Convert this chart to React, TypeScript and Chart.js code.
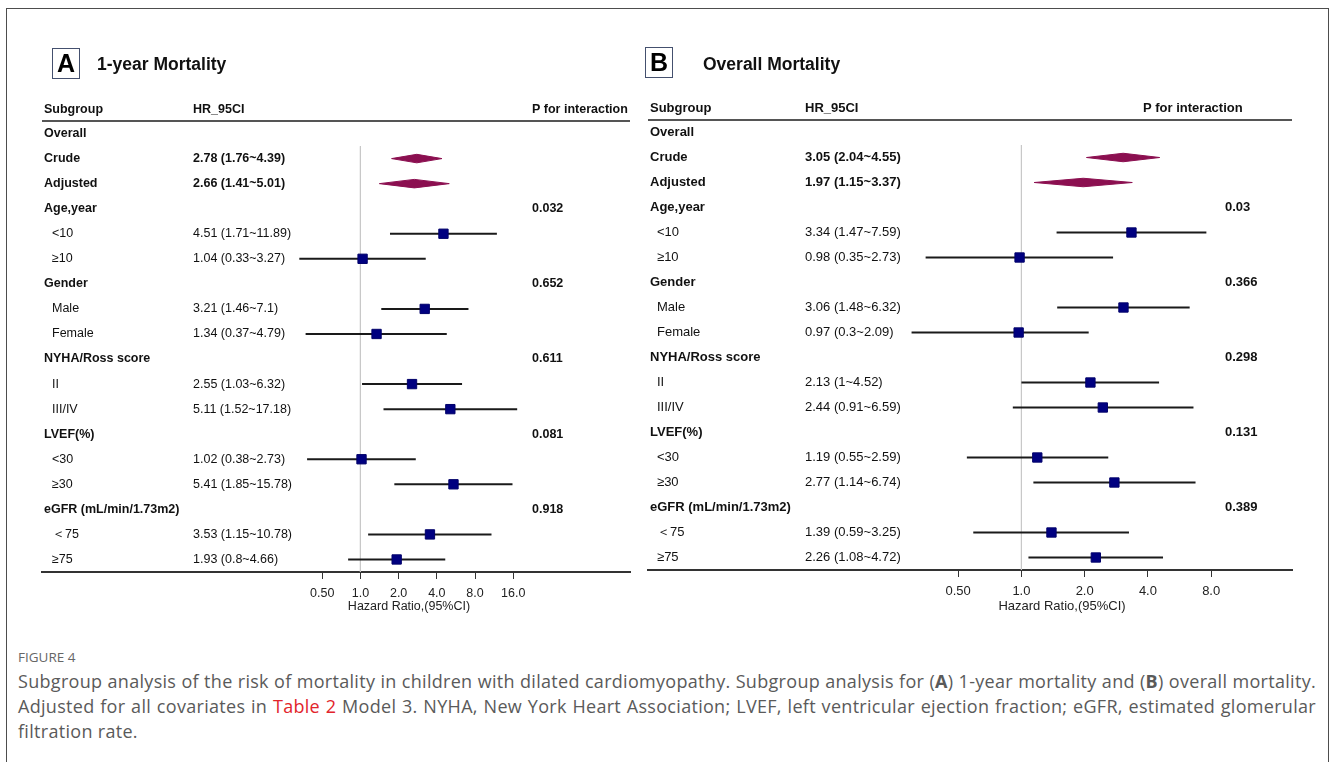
import React, { useEffect, useRef } from 'react';
import { Chart, registerables } from 'chart.js';
Chart.register(...registerables);

// ---------- data ----------
const subgroups = ['Overall', 'Crude', 'Adjusted', 'Age,year', '<10', '≥10', 'Gender', 'Male', 'Female', 'NYHA/Ross score', 'II', 'III/IV', 'LVEF(%)', '<30', '≥30', 'eGFR (mL/min/1.73m2)', '＜75', '≥75'];
const summaryRows = ['Crude', 'Adjusted'];

const hrTextA = ['', '2.78 (1.76~4.39)', '2.66 (1.41~5.01)', '', '4.51 (1.71~11.89)', '1.04 (0.33~3.27)', '', '3.21 (1.46~7.1)', '1.34 (0.37~4.79)', '', '2.55 (1.03~6.32)', '5.11 (1.52~17.18)', '', '1.02 (0.38~2.73)', '5.41 (1.85~15.78)', '', '3.53 (1.15~10.78)', '1.93 (0.8~4.66)'];
const hrA = [null, 2.78, 2.66, null, 4.51, 1.04, null, 3.21, 1.34, null, 2.55, 5.11, null, 1.02, 5.41, null, 3.53, 1.93];
const loA = [null, 1.76, 1.41, null, 1.71, 0.33, null, 1.46, 0.37, null, 1.03, 1.52, null, 0.38, 1.85, null, 1.15, 0.8];
const hiA = [null, 4.39, 5.01, null, 11.89, 3.27, null, 7.1, 4.79, null, 6.32, 17.18, null, 2.73, 15.78, null, 10.78, 4.66];
const pA = ['', '', '', '0.032', '', '', '0.652', '', '', '0.611', '', '', '0.081', '', '', '0.918', '', ''];

const hrTextB = ['', '3.05 (2.04~4.55)', '1.97 (1.15~3.37)', '', '3.34 (1.47~7.59)', '0.98 (0.35~2.73)', '', '3.06 (1.48~6.32)', '0.97 (0.3~2.09)', '', '2.13 (1~4.52)', '2.44 (0.91~6.59)', '', '1.19 (0.55~2.59)', '2.77 (1.14~6.74)', '', '1.39 (0.59~3.25)', '2.26 (1.08~4.72)'];
const hrB = [null, 3.05, 1.97, null, 3.34, 0.98, null, 3.06, 0.97, null, 2.13, 2.44, null, 1.19, 2.77, null, 1.39, 2.26];
const loB = [null, 2.04, 1.15, null, 1.47, 0.35, null, 1.48, 0.3, null, 1, 0.91, null, 0.55, 1.14, null, 0.59, 1.08];
const hiB = [null, 4.55, 3.37, null, 7.59, 2.73, null, 6.32, 2.09, null, 4.52, 6.59, null, 2.59, 6.74, null, 3.25, 4.72];
const pB = ['', '', '', '0.03', '', '', '0.366', '', '', '0.298', '', '', '0.131', '', '', '0.389', '', ''];

const tickValuesA = [0.5, 1, 2, 4, 8, 16];
const tickLabelsA = ['0.50', '1.0', '2.0', '4.0', '8.0', '16.0'];
const tickValuesB = [0.5, 1, 2, 4, 8];
const tickLabelsB = ['0.50', '1.0', '2.0', '4.0', '8.0'];

const headers = ['Subgroup', 'HR_95CI', 'P for interaction'];
const axisTitle = 'Hazard Ratio,(95%CI)';

// ---------- styling ----------
const FONT = '"Liberation Sans", Arial, Helvetica, sans-serif';
const SQUARE = '#000080';
const DIAMOND = '#8b0f50';
const CI = '#1a1a1a';

type Panel = {
  hr: (number | null)[]; lo: (number | null)[]; hi: (number | null)[];
  hrText: string[]; p: string[]; ticks: number[]; tickLabels: string[];
  xMin: number; xMax: number;
  left: number; top: number; w: number; h: number;
  pad: { left: number; right: number; top: number; bottom: number };
  fontSize: number; colLabel: number; colIndent: number; colHr: number; colP: number; colPHead: number;
  titleX: number; titleY: number; headGap: number;
};

const panelA: Panel = {
  hr: hrA, lo: loA, hi: hiA, hrText: hrTextA, p: pA, ticks: tickValuesA, tickLabels: tickLabelsA,
  xMin: 0.0031, xMax: 133,
  left: 0, top: 0, w: 640, h: 640,
  pad: { left: 42, right: 10, top: 121, bottom: 23 },
  fontSize: 12.5, colLabel: 44, colIndent: 52, colHr: 193, colP: 532, colPHead: 532,
  titleX: 409, titleY: 607, headGap: 11,
};

const panelB: Panel = {
  hr: hrB, lo: loB, hi: hiB, hrText: hrTextB, p: pB, ticks: tickValuesB, tickLabels: tickLabelsB,
  xMin: 0.0167, xMax: 19.4,
  left: 640, top: 0, w: 690, h: 640,
  pad: { left: 8, right: 38, top: 120, bottom: 25 },
  fontSize: 13, colLabel: 10, colIndent: 17, colHr: 165, colP: 585, colPHead: 503,
  titleX: 422, titleY: 606, headGap: 12,
};

function makeTablePlugin(cfg: Panel) {
  return {
    id: 'forestTable',
    afterDraw(chart: any) {
      const { ctx, chartArea, scales } = chart;
      const ys = scales.y;
      ctx.save();
      ctx.strokeStyle = '#555';
      ctx.lineWidth = 2;
      ctx.beginPath();
      ctx.moveTo(chartArea.left, chartArea.top);
      ctx.lineTo(chartArea.right, chartArea.top);
      ctx.stroke();

      ctx.fillStyle = '#111';
      ctx.textBaseline = 'middle';
      ctx.textAlign = 'left';
      const bold = `bold ${cfg.fontSize}px ${FONT}`;
      const norm = `${cfg.fontSize}px ${FONT}`;
      const hy = chartArea.top - cfg.headGap;
      ctx.font = bold;
      ctx.fillText(headers[0], cfg.colLabel, hy);
      ctx.fillText(headers[1], cfg.colHr, hy);
      ctx.fillText(headers[2], cfg.colPHead, hy);

      subgroups.forEach((lab, i) => {
        const y = ys.getPixelForValue(i);
        const isSummary = summaryRows.includes(lab);
        const isHeader = cfg.hr[i] === null;
        ctx.font = isHeader || isSummary ? bold : norm;
        ctx.fillText(lab, isHeader || isSummary ? cfg.colLabel : cfg.colIndent, y);
        if (cfg.hrText[i]) {
          ctx.font = isSummary ? bold : norm;
          ctx.fillText(cfg.hrText[i], cfg.colHr, y);
        }
        if (cfg.p[i]) {
          ctx.font = bold;
          ctx.fillText(cfg.p[i], cfg.colP, y);
        }
      });

      ctx.font = norm;
      ctx.fillStyle = '#222';
      ctx.textAlign = 'center';
      ctx.fillText(axisTitle, cfg.titleX, cfg.titleY);
      ctx.restore();
    },
  };
}

function ForestPanel({ cfg }: { cfg: Panel }) {
  const ref = useRef<HTMLCanvasElement | null>(null);
  useEffect(() => {
    if (!ref.current) return;
    const n = subgroups.length;
    const datasets: any[] = [];
    // reference line at HR = 1
    datasets.push({
      data: [{ x: 1, y: 0.5 }, { x: 1, y: n - 0.5 }],
      showLine: true, borderColor: '#c8c8c8', borderWidth: 1, pointRadius: 0, order: 5,
    });
    const squares: any[] = [];
    subgroups.forEach((lab, i) => {
      const hr = cfg.hr[i], lo = cfg.lo[i], hi = cfg.hi[i];
      if (hr === null || lo === null || hi === null) return;
      if (summaryRows.includes(lab)) {
        const hh = 0.17;
        datasets.push({
          data: [{ x: lo, y: i }, { x: hr, y: i - hh }, { x: hi, y: i }, { x: hr, y: i + hh }, { x: lo, y: i }],
          showLine: true, fill: 'shape', backgroundColor: DIAMOND, borderColor: DIAMOND,
          borderWidth: 1, pointRadius: 0, tension: 0, order: 1,
        });
      } else {
        datasets.push({
          data: [{ x: lo, y: i }, { x: hi, y: i }],
          showLine: true, borderColor: CI, borderWidth: 2, pointRadius: 0, order: 2,
        });
        squares.push({ x: hr, y: i });
      }
    });
    datasets.push({
      data: squares, pointStyle: 'rect', pointRadius: 6.6, backgroundColor: SQUARE,
      borderColor: '#00006a', borderWidth: 1, order: 0,
    });

    const chart = new Chart(ref.current, {
      type: 'scatter',
      data: { datasets },
      options: {
        animation: false,
        responsive: false,
        maintainAspectRatio: false,
        events: [],
        layout: { padding: cfg.pad },
        plugins: { legend: { display: false }, tooltip: { enabled: false } },
        scales: {
          x: {
            type: 'logarithmic',
            min: cfg.xMin,
            max: cfg.xMax,
            bounds: 'data',
            afterBuildTicks: (scale: any) => {
              scale.ticks = cfg.ticks.map((v) => ({ value: v }));
            },
            afterFit: (scale: any) => { scale.height = 45; },
            ticks: {
              autoSkip: false,
              maxRotation: 0,
              padding: 7,
              color: '#222',
              font: { family: FONT, size: cfg.fontSize },
              callback: (v: any) => {
                const k = cfg.ticks.indexOf(Number(v));
                return k >= 0 ? cfg.tickLabels[k] : '';
              },
            },
            grid: { drawOnChartArea: false, drawTicks: true, tickLength: 7, color: '#333', lineWidth: 1 },
            border: { display: true, color: '#333', width: 2 },
          },
          y: {
            type: 'linear', min: -0.5, max: n - 0.5, reverse: true, display: false,
          },
        },
      },
      plugins: [makeTablePlugin(cfg)],
    } as any);
    return () => chart.destroy();
  }, [cfg]);
  return (
    <canvas
      ref={ref}
      width={cfg.w}
      height={cfg.h}
      style={{ position: 'absolute', left: cfg.left, top: cfg.top, width: cfg.w, height: cfg.h }}
    />
  );
}

const boxStyle = (left: number, top: number): React.CSSProperties => ({
  position: 'absolute', left, top, width: 28, height: 31, boxSizing: 'border-box',
  border: '1.5px solid #44506e', fontFamily: FONT, fontWeight: 'bold', fontSize: 25,
  lineHeight: '29px', textAlign: 'center', color: '#000',
});
const titleStyle = (left: number, top: number): React.CSSProperties => ({
  position: 'absolute', left, top, fontFamily: FONT, fontWeight: 'bold', fontSize: 17.5,
  lineHeight: '20px', color: '#111', whiteSpace: 'nowrap',
});

const CAP_FONT = '"Open Sans", Lato, sans-serif';
const capLine = (top: number, justify: boolean): React.CSSProperties => ({
  position: 'absolute', left: 18, top, width: 1298, fontFamily: CAP_FONT, fontSize: 18,
  lineHeight: '25px', color: '#5a5a5a', textAlign: justify ? 'justify' : 'left',
  textAlignLast: justify ? 'justify' : 'left', letterSpacing: 0.3,
} as React.CSSProperties);

export default function App() {
  return (
    <div style={{ position: 'absolute', left: 0, top: 0, width: 1330, height: 762, overflow: 'hidden', background: '#fff' }}>
      <div style={{ position: 'absolute', left: 6, top: 8, width: 1323, height: 800, boxSizing: 'border-box', border: '1.5px solid #4d4d4d' }} />
      <ForestPanel cfg={panelA} />
      <ForestPanel cfg={panelB} />
      <div style={boxStyle(52, 48)}>A</div>
      <div style={titleStyle(97, 54)}>1-year Mortality</div>
      <div style={boxStyle(645, 47)}>B</div>
      <div style={titleStyle(703, 54)}>Overall Mortality</div>
      <div style={{ position: 'absolute', left: 18, top: 648, fontFamily: CAP_FONT, fontSize: 13.5, lineHeight: '18px', color: '#666', letterSpacing: 0 }}>FIGURE 4</div>
      <div style={capLine(669, true)}>
        Subgroup analysis of the risk of mortality in children with dilated cardiomyopathy. Subgroup analysis for (<b>A</b>) 1-year mortality and (<b>B</b>) overall mortality.
      </div>
      <div style={capLine(694, true)}>
        Adjusted for all covariates in <span style={{ color: '#e2242b' }}>Table 2</span> Model 3. NYHA, New York Heart Association; LVEF, left ventricular ejection fraction; eGFR, estimated glomerular
      </div>
      <div style={capLine(719, false)}>filtration rate.</div>
    </div>
  );
}
